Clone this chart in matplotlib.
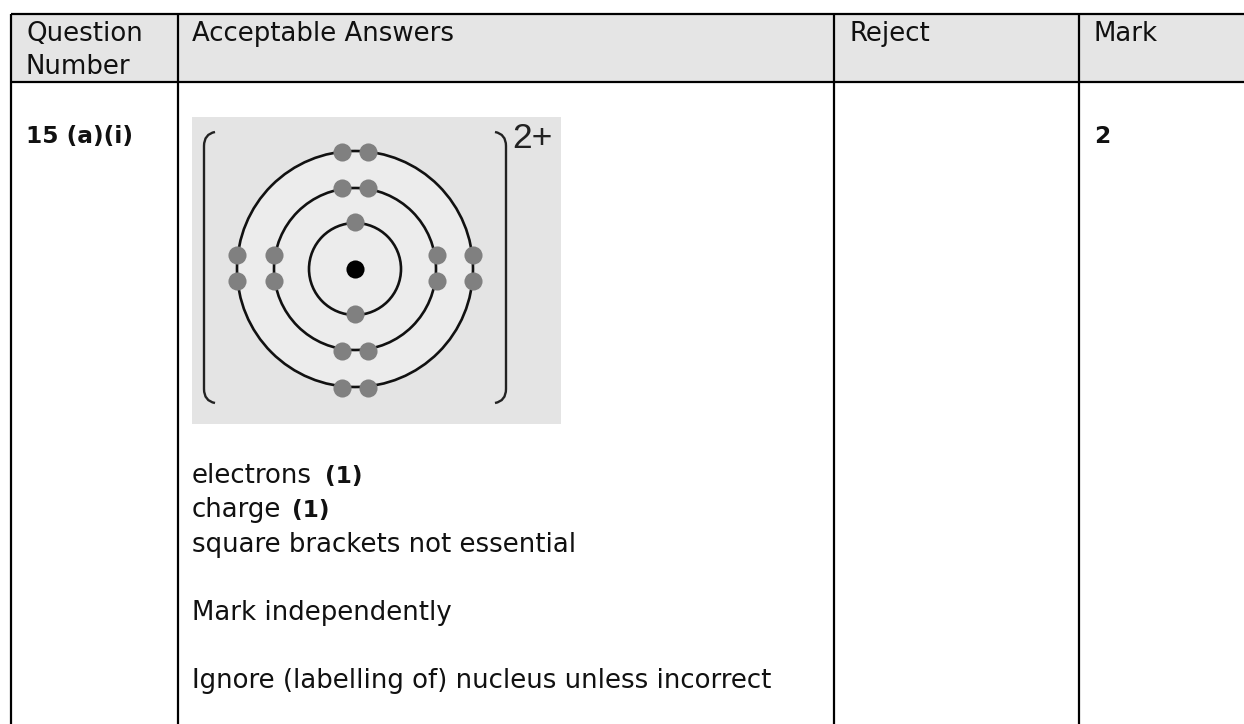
import matplotlib
matplotlib.use('Agg')
import matplotlib.pyplot as plt
from matplotlib.patches import Circle, Rectangle, PathPatch
from matplotlib.path import Path

header_lines = ['Question', 'Number', 'Acceptable Answers', 'Reject', 'Mark']
header_x = [26, 26, 192, 849, 1094]
header_y = [41, 74, 41, 41, 41]
column_lines = [11, 178, 834, 1079]
question = '15 (a)(i)'
mark = '2'
answer_lines = ['electrons', 'charge', 'square brackets not essential',
                'Mark independently', 'Ignore (labelling of) nucleus unless incorrect']
answer_y = [483, 517, 552, 620, 688]
bold_marks = ['(1)', '(1)']
bold_x = [325, 292]
bold_y = [483, 517]

nucleus = (355, 269)
shell_radius = [46, 81, 118]
electrons_x = [342, 368, 342, 368, 355, 355, 342, 368, 342, 368,
               237, 237, 274, 274, 437, 437, 473, 473]
electrons_y = [152, 152, 188, 188, 222, 314, 351, 351, 388, 388,
               255, 281, 255, 281, 255, 281, 255, 281]

FONT = 'DejaVu Sans'
SIZE = 18.7

fig = plt.figure(figsize=(12.44, 7.24), dpi=100)
ax = fig.add_axes([0, 0, 1, 1])
ax.set_xlim(0, 1244)
ax.set_ylim(724, 0)
ax.axis('off')

# header band and grid, the table runs off the right edge
ax.add_patch(Rectangle((11, 14), 1233, 68, fc='#e5e5e5', ec='none'))
for x in column_lines:
    ax.plot([x, x], [14, 724], color='black', lw=1.6, solid_capstyle='butt')
for y in [14, 82]:
    ax.plot([11, 1244], [y, y], color='black', lw=1.6, solid_capstyle='butt')

for label, x, y in zip(header_lines, header_x, header_y):
    ax.text(x, y, label, family=FONT, fontsize=SIZE, va='baseline', color='#111111')
ax.text(26, 143, question, family=FONT, fontsize=16.8, weight='bold', va='baseline', color='#111111')
ax.text(1094, 143, mark, family=FONT, fontsize=16.8, weight='bold', va='baseline', color='#111111')

for line, y in zip(answer_lines, answer_y):
    ax.text(192, y, line, family=FONT, fontsize=SIZE, va='baseline', color='#111111')
for label, x, y in zip(bold_marks, bold_x, bold_y):
    ax.text(x, y, label, family=FONT, fontsize=16.8, weight='bold', va='baseline', color='#111111')

# the ion diagram
ax.add_patch(Rectangle((192, 117), 369, 307, fc='#e4e4e4', ec='none'))
ax.add_patch(Circle(nucleus, 118, fc='#ececec', ec='none'))
for r in shell_radius:
    ax.add_patch(Circle(nucleus, r, fc='none', ec='#111111', lw=1.9))
ax.scatter(electrons_x, electrons_y, s=170, color='#808080', zorder=3, linewidths=0)
ax.scatter(*nucleus, s=170, color='black', zorder=3, linewidths=0)

left = Path([(215, 132), (204, 134), (204, 146), (204, 389), (204, 401), (215, 403)],
            [Path.MOVETO, Path.CURVE3, Path.CURVE3, Path.LINETO, Path.CURVE3, Path.CURVE3])
right = Path([(495, 132), (506, 134), (506, 146), (506, 389), (506, 401), (495, 403)],
             [Path.MOVETO, Path.CURVE3, Path.CURVE3, Path.LINETO, Path.CURVE3, Path.CURVE3])
for p in [left, right]:
    ax.add_patch(PathPatch(p, fc='none', ec='#222222', lw=1.7))
ax.text(512, 148, '2+', family='Liberation Sans', fontsize=25.5, color='#222222', va='baseline')

fig.savefig('out.png', dpi=100)
